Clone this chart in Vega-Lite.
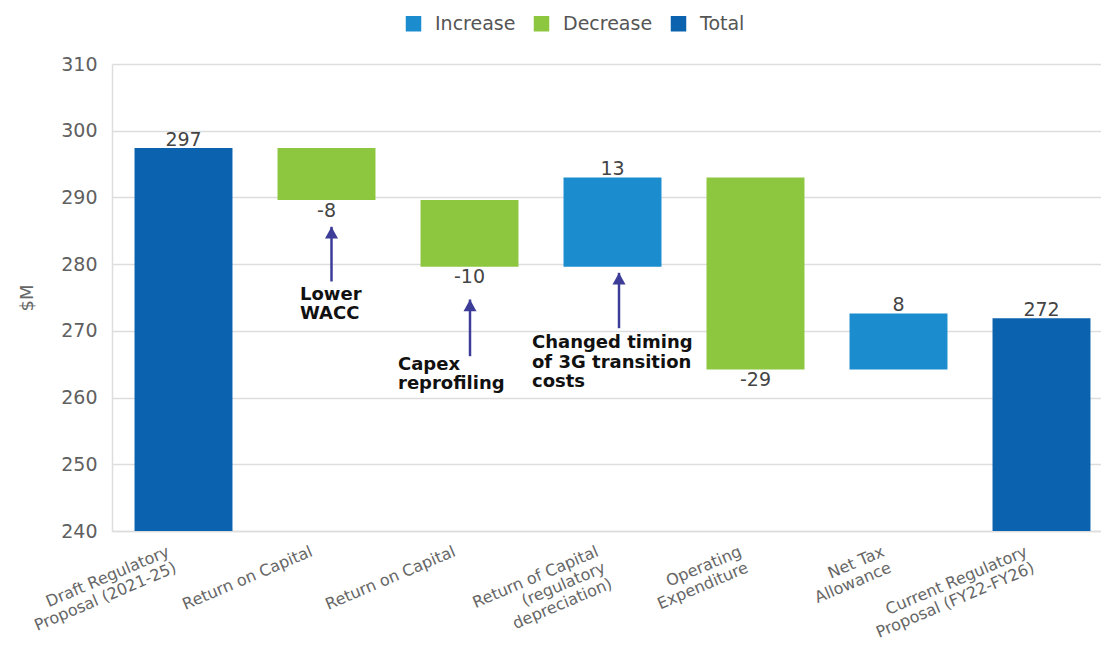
{
  "$schema": "https://vega.github.io/schema/vega-lite/v6.json",
  "autosize": {"type": "none"},
  "padding": {"left": 112, "top": 64, "right": 0, "bottom": 116},
  "width": 989,
  "height": 467,
  "background": "white",
  "config": {
    "font": "DejaVu Sans",
    "view": {"stroke": null},
    "locale": {"number": {"decimal": ".", "thousands": ",", "grouping": [3], "currency": ["$", ""], "minus": "-"}}
  },
  "datasets": {
    "steps": [
      {"step": "Draft Regulatory|Proposal (2021-25)", "kind": "Total", "start": 0, "end": 297.4, "amount": 297.4},
      {"step": "Return on Capital", "kind": "Decrease", "start": 297.4, "end": 289.6, "amount": -7.8},
      {"step": "Return on Capital ", "kind": "Decrease", "start": 289.6, "end": 279.6, "amount": -10.0},
      {"step": "Return of Capital|(regulatory|depreciation)", "kind": "Increase", "start": 279.6, "end": 293.0, "amount": 13.4},
      {"step": "Operating|Expenditure", "kind": "Decrease", "start": 293.0, "end": 264.2, "amount": -28.8},
      {"step": "Net Tax|Allowance", "kind": "Increase", "start": 264.2, "end": 272.6, "amount": 8.4},
      {"step": "Current Regulatory|Proposal (FY22-FY26)", "kind": "Total", "start": 0, "end": 271.9, "amount": 271.9}
    ],
    "notes": [
      {"note": 1, "step": "Return on Capital", "tip": 285.6, "base": 277.4, "top": 276.7, "lines": ["Lower", "WACC"]},
      {"note": 2, "step": "Return on Capital ", "tip": 274.7, "base": 266.2, "top": 266.2, "lines": ["Capex", "reprofiling"]},
      {"note": 3, "step": "Return of Capital|(regulatory|depreciation)", "tip": 278.7, "base": 270.4, "top": 269.5, "lines": ["Changed timing", "of 3G transition", "costs"]}
    ]
  },
  "data": {"name": "steps"},
  "encoding": {
    "x": {
      "field": "step",
      "type": "nominal",
      "sort": null,
      "scale": {
        "domain": [
          "Draft Regulatory|Proposal (2021-25)",
          "Return on Capital",
          "Return on Capital ",
          "Return of Capital|(regulatory|depreciation)",
          "Operating|Expenditure",
          "Net Tax|Allowance",
          "Current Regulatory|Proposal (FY22-FY26)"
        ],
        "range": [0, 1001],
        "paddingInner": 0.315,
        "paddingOuter": 0.1575
      },
      "axis": {
        "title": null,
        "labelExpr": "split(trim(datum.value), '|')",
        "labelAngle": -23,
        "labelAlign": "right",
        "labelBaseline": "top",
        "labelFontSize": 16,
        "labelColor": "#666666",
        "labelLineHeight": 17.5,
        "labelPadding": 12,
        "labelOffset": -18,
        "labelLimit": 0,
        "labelOverlap": false,
        "ticks": false,
        "domainColor": "#dddddd",
        "domainWidth": 1.5,
        "grid": false
      }
    }
  },
  "layer": [
    {
      "mark": {"type": "bar", "clip": true},
      "encoding": {
        "y": {
          "field": "start",
          "type": "quantitative",
          "title": "$M",
          "scale": {"domain": [240, 310], "zero": false, "nice": false},
          "axis": {
            "values": [240, 250, 260, 270, 280, 290, 300, 310],
            "labelFontSize": 19,
            "labelColor": "#606060",
            "labelPadding": 15,
            "ticks": false,
            "domainColor": "#dddddd",
            "domainWidth": 1.5,
            "gridColor": "#dddddd",
            "gridWidth": 1.5,
            "titleFontSize": 18,
            "titleFontWeight": "normal",
            "titleColor": "#666666",
            "titlePadding": 24
          }
        },
        "y2": {"field": "end"},
        "color": {
          "field": "kind",
          "type": "nominal",
          "scale": {"domain": ["Increase", "Decrease", "Total"], "range": ["#1b8dcf", "#8dc63f", "#0b62ae"]},
          "legend": {
            "title": null,
            "orient": "none",
            "legendX": 292,
            "legendY": -50,
            "direction": "horizontal",
            "symbolType": "square",
            "symbolSize": 240,
            "symbolStrokeWidth": 0,
            "labelFontSize": 19,
            "labelColor": "#555555",
            "labelOffset": 12,
            "columnPadding": 16,
            "padding": 0
          }
        }
      }
    },
    {
      "transform": [{"filter": "datum.kind != 'Decrease'"}],
      "mark": {"type": "text", "baseline": "alphabetic", "dy": -2.5, "fontSize": 19, "color": "#444444"},
      "encoding": {
        "y": {"field": "end", "type": "quantitative", "title": "$M"},
        "text": {"field": "amount", "type": "quantitative", "format": ".0f"}
      }
    },
    {
      "transform": [{"filter": "datum.kind == 'Decrease'"}],
      "mark": {"type": "text", "baseline": "alphabetic", "dy": 16.5, "fontSize": 19, "color": "#444444"},
      "encoding": {
        "y": {"field": "end", "type": "quantitative", "title": "$M"},
        "text": {"field": "amount", "type": "quantitative", "format": ".0f"}
      }
    },
    {
      "data": {"name": "notes"},
      "transform": [{"filter": "datum.note == 1"}],
      "layer": [
        {
          "mark": {"type": "rule", "color": "#3d3d99", "strokeWidth": 2.5, "xOffset": 5},
          "encoding": {"y": {"field": "base", "type": "quantitative", "title": "$M"}, "y2": {"field": "tip"}}
        },
        {
          "mark": {"type": "point", "shape": "M0,0L1,1.8L-1,1.8Z", "filled": true, "opacity": 1, "strokeWidth": 0, "color": "#3d3d99", "size": 169, "xOffset": 5},
          "encoding": {"y": {"field": "tip", "type": "quantitative", "title": "$M"}}
        },
        {
          "mark": {"type": "text", "align": "left", "baseline": "top", "dx": -26.5, "fontSize": 18, "fontWeight": "bold", "lineHeight": 19, "color": "#111111"},
          "encoding": {"y": {"field": "top", "type": "quantitative", "title": "$M"}, "text": {"field": "lines"}}
        }
      ]
    },
    {
      "data": {"name": "notes"},
      "transform": [{"filter": "datum.note == 2"}],
      "layer": [
        {
          "mark": {"type": "rule", "color": "#3d3d99", "strokeWidth": 2.5, "xOffset": 0.5},
          "encoding": {"y": {"field": "base", "type": "quantitative", "title": "$M"}, "y2": {"field": "tip"}}
        },
        {
          "mark": {"type": "point", "shape": "M0,0L1,1.8L-1,1.8Z", "filled": true, "opacity": 1, "strokeWidth": 0, "color": "#3d3d99", "size": 169, "xOffset": 0.5},
          "encoding": {"y": {"field": "tip", "type": "quantitative", "title": "$M"}}
        },
        {
          "mark": {"type": "text", "align": "left", "baseline": "top", "dx": -71.5, "fontSize": 18, "fontWeight": "bold", "lineHeight": 19, "color": "#111111"},
          "encoding": {"y": {"field": "top", "type": "quantitative", "title": "$M"}, "text": {"field": "lines"}}
        }
      ]
    },
    {
      "data": {"name": "notes"},
      "transform": [{"filter": "datum.note == 3"}],
      "layer": [
        {
          "mark": {"type": "rule", "color": "#3d3d99", "strokeWidth": 2.5, "xOffset": 6.5},
          "encoding": {"y": {"field": "base", "type": "quantitative", "title": "$M"}, "y2": {"field": "tip"}}
        },
        {
          "mark": {"type": "point", "shape": "M0,0L1,1.8L-1,1.8Z", "filled": true, "opacity": 1, "strokeWidth": 0, "color": "#3d3d99", "size": 169, "xOffset": 6.5},
          "encoding": {"y": {"field": "tip", "type": "quantitative", "title": "$M"}}
        },
        {
          "mark": {"type": "text", "align": "left", "baseline": "top", "dx": -80.5, "fontSize": 18, "fontWeight": "bold", "lineHeight": 19.5, "color": "#111111"},
          "encoding": {"y": {"field": "top", "type": "quantitative", "title": "$M"}, "text": {"field": "lines"}}
        }
      ]
    }
  ]
}
